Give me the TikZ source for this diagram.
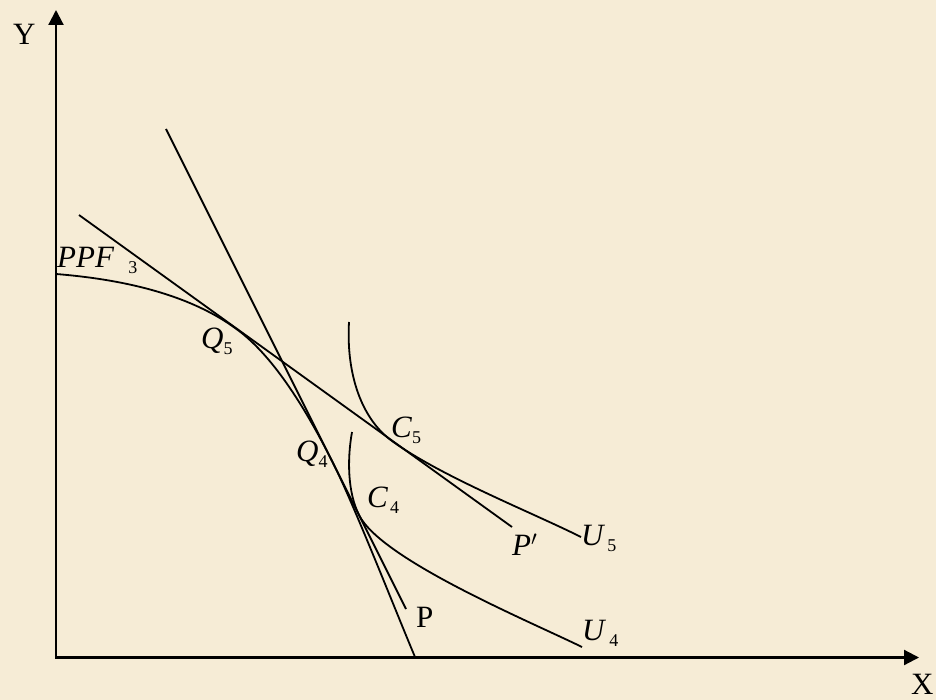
\documentclass[tikz,border=0pt]{standalone}
\usepackage{fontspec}
\setmainfont{Liberation Serif}
\usetikzlibrary{arrows.meta}
\definecolor{bgbeige}{RGB}{246,236,214}
\newcommand{\mysub}[1]{\raisebox{-6pt}{\fontsize{18}{18}\selectfont #1}}
\begin{document}
\begin{tikzpicture}[x=1pt,y=-1pt,
  curve/.style={line width=1.8pt},
  axis/.style={line width=2.2pt,{Triangle[length=15pt,width=15pt]}-{Triangle[length=15pt,width=15pt]}},
  lbl/.style={inner sep=0pt,anchor=base west,font=\fontsize{31}{36}\selectfont}]
\useasboundingbox[fill=bgbeige] (0,0) rectangle (936,700);
% axes
\coordinate (O) at (56,657.5);
\coordinate (Ytip) at (56,10);
\coordinate (Xtip) at (919,657.5);
\draw[axis] (Ytip) -- (O) -- (Xtip);
% key points
\coordinate (A) at (56,274);
\coordinate (Q5pt) at (235,328);
\coordinate (Q4pt) at (334,465);
\coordinate (B) at (415,657);
\coordinate (Ptop) at (166,129);
\coordinate (Pend) at (406,609);
\coordinate (Pptop) at (79,215);
\coordinate (Ppend) at (512,527);
\coordinate (S5) at (349,322);
\coordinate (C5pt) at (392,441);
\coordinate (E5) at (581,537);
\coordinate (S4) at (352,432);
\coordinate (C4pt) at (359,515);
\coordinate (E4) at (582,647);
% PPF
\draw[curve] (A) .. controls (134.4,280.3) and (194.1,298.3) .. (Q5pt)
  .. controls (266.7,350.2) and (299.7,395.9) .. (Q4pt)
  .. controls (354,505) and (394,607) .. (B);
% price lines
\draw[curve] (Ptop) -- (Pend);
\draw[curve] (Pptop) -- (Ppend);
% indifference curves
\draw[curve] (S5) .. controls (346,375) and (362,419.3) .. (C5pt)
  .. controls (442,477) and (531,512) .. (E5);
\draw[curve] (S4) .. controls (347,460) and (347.8,492.6) .. (C4pt)
  .. controls (381.4,559.7) and (528,620.6) .. (E4);
% labels
\node[lbl] (lblY) at (13,45) {Y};
\node[lbl] (lblX) at (911,694) {X};
\node[lbl] (lblPPF) at (57,268) {\textit{PPF}\hspace{14pt}\mysub{3}};
\node[lbl] (lblQ5) at (201,348) {\textit{Q}\mysub{5}};
\node[lbl] (lblQ4) at (296,461) {\textit{Q}\mysub{4}};
\node[lbl] (lblC5) at (391,437) {\textit{C}\mysub{5}};
\node[lbl] (lblC4) at (367,507) {\textit{C}\hspace{2pt}\mysub{4}};
\node[lbl] (lblPp) at (512,555) {\textit{P}$'$};
\node[lbl] (lblU5) at (581,545) {\textit{U}\hspace{2pt}\mysub{5}};
\node[lbl] (lblU4) at (582,640) {\textit{U}\hspace{3pt}\mysub{4}};
\node[lbl] (lblP) at (416,627) {P};
\end{tikzpicture}
\end{document}
